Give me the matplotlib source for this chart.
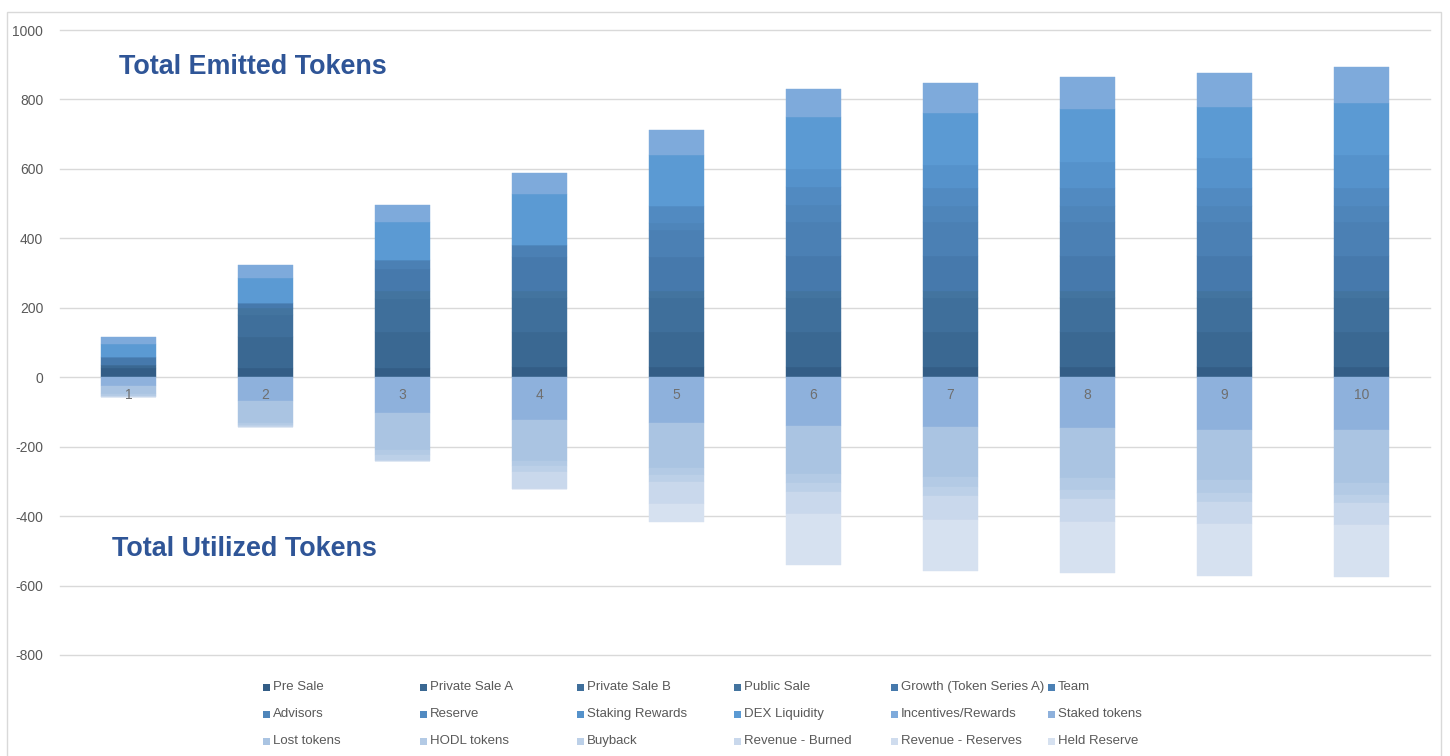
"""Stacked token emission / utilisation chart (positive = emitted, negative = utilised)."""

import matplotlib

matplotlib.use("Agg")
import matplotlib.pyplot as plt
import numpy as np
from matplotlib.patches import Rectangle

plt.rcParams["font.family"] = ["Liberation Sans", "DejaVu Sans"]

periods = [1, 2, 3, 4, 5, 6, 7, 8, 9, 10]

# emitted tokens (stacked above zero)
pre_sale = [28, 28, 28, 29, 29, 29, 29, 29, 29, 29]
private_sale_a = [8, 87, 101, 100, 100, 100, 100, 100, 100, 100]
private_sale_b = [0, 65, 97, 99, 99, 99, 99, 99, 99, 99]
public_sale = [0, 19, 21, 19, 19, 19, 19, 19, 19, 19]
growth = [21, 14, 65, 99, 99, 101, 101, 101, 101, 101]
team = [0, 0, 26, 35, 77, 100, 100, 100, 100, 100]
advisors = [0, 0, 0, 0, 21, 48, 46, 46, 46, 46]
reserve = [0, 0, 0, 0, 48, 51, 52, 52, 52, 52]
staking_rewards = [0, 0, 0, 0, 0, 52, 65, 75, 85, 94]
dex_liquidity = [38, 74, 109, 147, 148, 151, 149, 151, 148, 151]
incentives = [22, 37, 49, 61, 72, 79, 88, 92, 98, 102]

# utilised tokens (stacked below zero)
staked_tokens = [-24, -69, -103, -122, -132, -141, -143, -147, -151, -153]
lost_tokens = [-24, -63, -106, -120, -129, -138, -144, -143, -146, -152]
hodl_tokens = [-5, -6, -14, -15, -20, -26, -29, -36, -36, -33]
buyback = [-4, -5, -19, -17, -22, -26, -25, -25, -26, -24]
revenue_burned = [0, 0, 0, -48, -61, -62, -69, -67, -63, -65]
revenue_reserves = [0, 0, 0, 0, 0, 0, 0, 0, 0, 0]
held_reserve = [0, 0, 0, 0, -54, -149, -148, -147, -151, -148]

series = [
    ("Pre Sale", pre_sale, "#335d86"),
    ("Private Sale A", private_sale_a, "#3a6892"),
    ("Private Sale B", private_sale_b, "#3f6f9b"),
    ("Public Sale", public_sale, "#43749f"),
    ("Growth (Token Series A)", growth, "#4679ac"),
    ("Team", team, "#4b80b4"),
    ("Advisors", advisors, "#4e85ba"),
    ("Reserve", reserve, "#518ac1"),
    ("Staking Rewards", staking_rewards, "#5592cb"),
    ("DEX Liquidity", dex_liquidity, "#5b9ad3"),
    ("Incentives/Rewards", incentives, "#7eaadb"),
    ("Staked tokens", staked_tokens, "#8eb1dc"),
    ("Lost tokens", lost_tokens, "#aac4e2"),
    ("HODL tokens", hodl_tokens, "#b3cae5"),
    ("Buyback", buyback, "#bcd0e8"),
    ("Revenue - Burned", revenue_burned, "#c9d8ec"),
    ("Revenue - Reserves", revenue_reserves, "#cfdcee"),
    ("Held Reserve", held_reserve, "#d6e1f0"),
]

y_ticks = [1000, 800, 600, 400, 200, 0, -200, -400, -600, -800]

fig = plt.figure(figsize=(14.5, 7.56), dpi=100)
ax = fig.add_axes([60 / 1450, 1 - 655 / 756, 1370 / 1450, 625 / 756])

x = np.array(periods)
pos_base = np.zeros(len(periods))
neg_base = np.zeros(len(periods))
for name, values, color in series:
    values = np.array(values, dtype=float)
    if values.max() > 0:
        ax.bar(x, values, 0.4, bottom=pos_base, color=color, edgecolor=color,
               linewidth=0.3, zorder=2)
        pos_base += values
    else:
        ax.bar(x, values, 0.4, bottom=neg_base, color=color, edgecolor=color,
               linewidth=0.3, zorder=2)
        neg_base += values

ax.set_xlim(0.5, 10.5)
ax.set_ylim(-800, 1000)
ax.set_yticks(y_ticks)
ax.set_yticklabels([str(t) for t in y_ticks])
ax.tick_params(axis="y", length=0, pad=12, labelsize=10, labelcolor="#595959")
ax.set_xticks([])
ax.grid(axis="y", color="#d9d9d9", linewidth=1.0, zorder=0)
for line in ax.get_ygridlines():
    line.set_clip_on(False)
ax.set_axisbelow(True)
for spine in ax.spines.values():
    spine.set_visible(False)

for p in periods:
    ax.text(p, -50, str(p), ha="center", va="center", fontsize=10,
            color="#6f6f6f", zorder=5)

ax.text(119 / 1450, 1 - 67 / 756, "Total Emitted Tokens", transform=fig.transFigure,
        fontsize=19.4, fontweight="bold", color="#2f5597", va="center", ha="left")
ax.text(112 / 1450, 1 - 549 / 756, "Total Utilized Tokens", transform=fig.transFigure,
        fontsize=19.4, fontweight="bold", color="#2f5597", va="center", ha="left")

# legend: 3 rows x 6 evenly spaced columns
col_x = [266, 423, 580, 737, 894, 1051]
row_y = [687, 714, 741]
for i, (name, _, color) in enumerate(series):
    r, c = divmod(i, 6)
    mx, my = col_x[c], row_y[r]
    fig.patches.append(Rectangle(((mx - 3.5) / 1450, 1 - (my + 3.5) / 756), 7 / 1450, 7 / 756,
                                 transform=fig.transFigure, facecolor=color,
                                 edgecolor="none"))
    fig.text((mx + 7) / 1450, 1 - my / 756, name, fontsize=9.5, color="#595959",
             va="center", ha="left")

fig.patches.append(Rectangle((7 / 1450, -0.01), 1434 / 1450, 1 - 12 / 756 + 0.01,
                             transform=fig.transFigure, facecolor="none",
                             edgecolor="#d9d9d9", linewidth=1.0))

fig.savefig("out.png", dpi=100)
